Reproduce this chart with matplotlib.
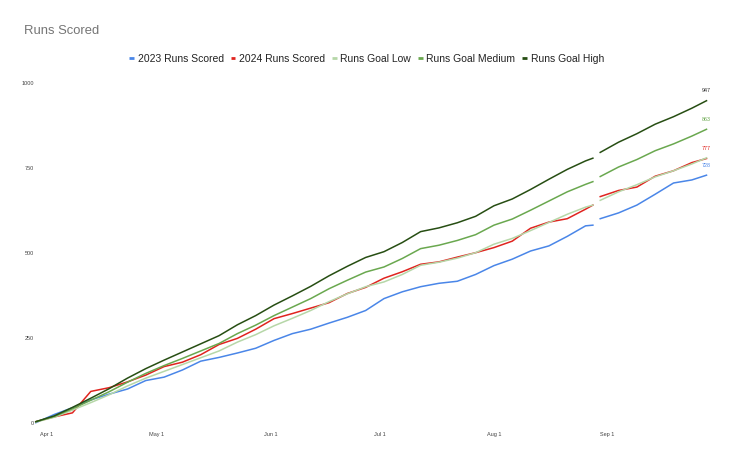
import matplotlib
matplotlib.use("Agg")
import matplotlib.pyplot as plt
import matplotlib.dates as mdates
from matplotlib.lines import Line2D
import numpy as np
import pandas as pd

nan = np.nan

dates = ["2024-03-29", "2024-04-03", "2024-04-08", "2024-04-13", "2024-04-18", "2024-04-23",
         "2024-04-28", "2024-05-03", "2024-05-08", "2024-05-13", "2024-05-18", "2024-05-23",
         "2024-05-28", "2024-06-02", "2024-06-07", "2024-06-12", "2024-06-17", "2024-06-22",
         "2024-06-27", "2024-07-02", "2024-07-07", "2024-07-12", "2024-07-17", "2024-07-22",
         "2024-07-27", "2024-08-01", "2024-08-06", "2024-08-11", "2024-08-16", "2024-08-21",
         "2024-08-26", "2024-08-28", "2024-08-29", "2024-08-30", "2024-09-04", "2024-09-09",
         "2024-09-14", "2024-09-19", "2024-09-24", "2024-09-28"]

runs_2023 = [0, 24, 44, 67, 84, 99, 124, 134, 155, 181, 192, 205, 219, 242, 262, 275, 293, 310,
             330, 365, 385, 400, 410, 416, 436, 462, 481, 505, 520, 548, 579, 581, nan, 600, 617,
             640, 672, 705, 714, 728]
runs_2024 = [3, 17, 29, 92, 103, 120, 140, 165, 178, 200, 230, 248, 275, 306, 321, 337, 353, 380,
             398, 425, 444, 466, 473, 487, 500, 515, 534, 572, 590, 600, 628, 640, nan, 665, 683,
             693, 725, 741, 765, 777]
goal_low = [2, 16, 37, 59, 82, 108, 131, 151, 171, 191, 211, 237, 259, 285, 307, 330, 356, 379,
            400, 414, 436, 463, 472, 484, 500, 525, 542, 565, 589, 613, 634, 640, nan, 654, 679,
            700, 723, 741, 761, 779]
goal_medium = [3, 18, 41, 66, 91, 119, 145, 168, 189, 211, 233, 262, 287, 315, 340, 365, 394, 419,
               443, 458, 483, 512, 522, 536, 553, 581, 599, 625, 652, 679, 701, 709, nan, 724, 752,
               774, 800, 820, 843, 863]
goal_high = [3, 20, 45, 72, 100, 131, 159, 184, 208, 232, 256, 288, 315, 346, 373, 401, 432, 460,
             486, 503, 530, 562, 573, 588, 607, 638, 658, 686, 716, 745, 770, 778, nan, 795, 825,
             850, 878, 900, 925, 947]

series_names = ["2023 Runs Scored", "2024 Runs Scored", "Runs Goal Low", "Runs Goal Medium",
                "Runs Goal High"]
series_colors = ["#4a86e8", "#e0241f", "#b6d7a8", "#6aa84f", "#274e13"]
label_colors = ["#4a86e8", "#e0241f", None, "#6aa84f", "#333333"]

tick_dates = ["2024-04-01", "2024-05-01", "2024-06-01", "2024-07-01", "2024-08-01", "2024-09-01"]
tick_labels = ["Apr 1", "May 1", "Jun 1", "Jul 1", "Aug 1", "Sep 1"]
y_ticks = [0, 250, 500, 750, 1000]

FONT = "Liberation Sans"
W, H = 730, 454
fig = plt.figure(figsize=(W / 100, H / 100), dpi=100)
ax = fig.add_axes([38 / W, (H - 422.7) / H, (716 - 38) / W, (422.7 - 82.7) / H])

x = pd.to_datetime(dates)
all_series = [runs_2023, runs_2024, goal_low, goal_medium, goal_high]
for vals, name, col, lcol in zip(all_series, series_names, series_colors, label_colors):
    ax.plot(x, vals, color=col, lw=1.1, clip_on=False, solid_joinstyle="round")
    if lcol is not None:
        ax.annotate(f"{vals[-1]:.0f}", xy=(x[-1], vals[-1]), xytext=(0, 7),
                    textcoords="offset points", ha="center", va="center",
                    fontsize=3.9, color=lcol, family=FONT)

base = mdates.date2num(pd.Timestamp("2024-04-01"))
ax.set_xlim(base - 2.401, base + 182.59)
ax.set_ylim(0, 1000)

ax.set_xticks(pd.to_datetime(tick_dates))
ax.set_xticklabels(tick_labels)
ax.set_yticks(y_ticks)
ax.set_yticklabels([str(v) for v in y_ticks])
ax.tick_params(axis="both", length=0, labelsize=4.0, labelcolor="#444444")
ax.tick_params(axis="x", pad=6.5)
ax.tick_params(axis="y", pad=2.7)
for lab in ax.get_xticklabels() + ax.get_yticklabels():
    lab.set_family(FONT)
for s in ax.spines.values():
    s.set_visible(False)
ax.grid(False)

fig.text(24 / W, 1 - 31 / H, "Runs Scored", ha="left", va="center", fontsize=9.4,
         color="#757575", family=FONT)

handles = [Line2D([], [], color=c, lw=2.0, solid_capstyle="butt") for c in series_colors]
ax.legend(handles, series_names, loc="center", bbox_to_anchor=(366.6 / W, 1 - 59 / H),
          bbox_transform=fig.transFigure, ncol=5, frameon=False,
          prop={"family": FONT, "size": 7.5}, handlelength=0.45, handletextpad=0.35,
          columnspacing=0.67, borderpad=0, labelcolor="#222222")

fig.savefig("out.png", dpi=100, facecolor="white")
